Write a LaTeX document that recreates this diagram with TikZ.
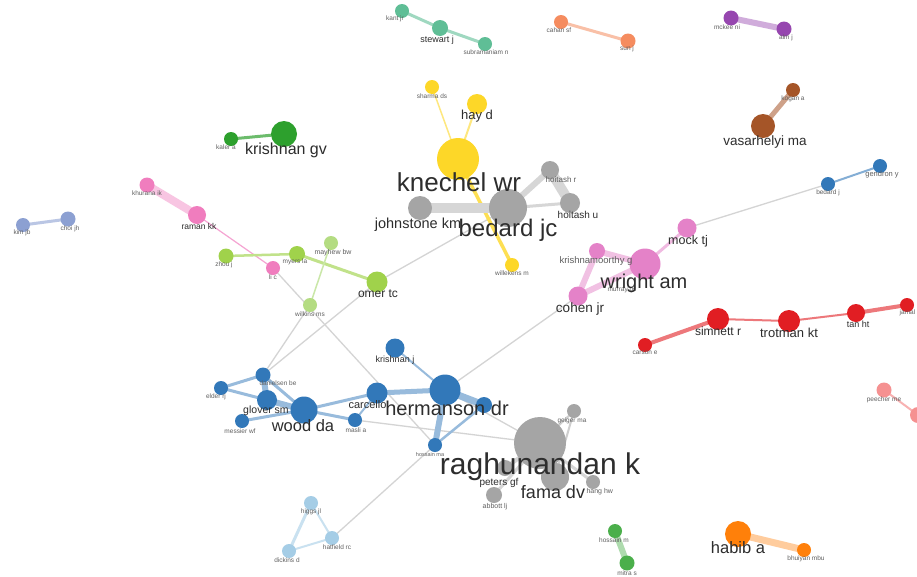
\documentclass[tikz,border=0pt]{standalone}
\usepackage{fontspec}
\setmainfont{Liberation Sans}
\pgfdeclarelayer{back}\pgfdeclarelayer{bg}\pgfdeclarelayer{fg}
\pgfsetlayers{back,bg,main,fg}

\definecolor{cTeal}{RGB}{95,190,150}
\definecolor{cSalmon}{RGB}{245,140,95}
\definecolor{cPurple}{RGB}{150,70,175}
\definecolor{cBrown}{RGB}{165,85,40}
\definecolor{cYellow}{RGB}{253,215,40}
\definecolor{cGray}{RGB}{165,165,165}
\definecolor{cDGreen}{RGB}{45,160,45}
\definecolor{cSlate}{RGB}{140,160,210}
\definecolor{cPink}{RGB}{240,125,190}
\definecolor{cLime}{RGB}{160,210,75}
\definecolor{cLime2}{RGB}{180,220,130}
\definecolor{cBlue}{RGB}{50,120,185}
\definecolor{cRed}{RGB}{225,30,35}
\definecolor{cRose}{RGB}{245,145,145}
\definecolor{cSky}{RGB}{165,205,230}
\definecolor{cGreen}{RGB}{75,175,75}
\definecolor{cOrange}{RGB}{255,128,10}
\definecolor{cOrchid}{RGB}{228,130,200}
\definecolor{cLink}{RGB}{212,212,212}
\definecolor{txt}{RGB}{45,45,45}
\definecolor{txtS}{RGB}{95,95,95}

\tikzset{
  v/.style={circle,inner sep=0pt,draw=none,minimum size=#1},
  lbl/.style={text=txt,inner sep=0pt,font=\fontsize{#1}{#1}\selectfont},
  slbl/.style={text=txtS,inner sep=0pt,font=\fontsize{#1}{#1}\selectfont},
  ln/.style={line width=#1,line cap=round},
  link/.style={ln=1.3,cLink},
}

\begin{document}
\begin{tikzpicture}[x=1pt,y=-1pt]
\useasboundingbox (0,0) rectangle (917,576);
\begin{pgfonlayer}{back}
\fill[white] (0,0) rectangle (917,576);
\end{pgfonlayer}

% ---------- vertices ----------
% teal
\node[v=14,fill=cTeal] (kant) at (402,11) {};
\node[v=16,fill=cTeal] (stewart) at (440,28) {};
\node[v=14,fill=cTeal] (subra) at (485,44) {};
% salmon
\node[v=14,fill=cSalmon] (cahan) at (561,22) {};
\node[v=15,fill=cSalmon] (sun) at (628,41) {};
% purple
\node[v=15,fill=cPurple] (mckee) at (731,18) {};
\node[v=15,fill=cPurple] (alm) at (784,29) {};
% brown
\node[v=14,fill=cBrown] (kogan) at (793,90) {};
\node[v=24,fill=cBrown] (vasar) at (763,126) {};
% yellow
\node[v=14,fill=cYellow] (sharma) at (432,87) {};
\node[v=20,fill=cYellow] (hay) at (477,104) {};
\node[v=42,fill=cYellow] (knechel) at (458,159) {};
\node[v=14,fill=cYellow] (willekens) at (512,265) {};
% gray (bedard)
\node[v=18,fill=cGray] (hoitr) at (550,170) {};
\node[v=20,fill=cGray] (hoitu) at (570,203) {};
\node[v=24,fill=cGray] (johnstone) at (420,208) {};
\node[v=38,fill=cGray] (bedard) at (508,208) {};
% dark green
\node[v=14,fill=cDGreen] (kaler) at (231,139) {};
\node[v=26,fill=cDGreen] (krishgv) at (284,134) {};
% slate
\node[v=14,fill=cSlate] (kim) at (23,225) {};
\node[v=15,fill=cSlate] (choi) at (68,219) {};
% pink
\node[v=15,fill=cPink] (khurana) at (147,185) {};
\node[v=18,fill=cPink] (raman) at (197,215) {};
\node[v=14,fill=cPink] (lic) at (273,268) {};
% lime
\node[v=15,fill=cLime] (zhou) at (226,256) {};
\node[v=16,fill=cLime] (myers) at (297,254) {};
\node[v=14,fill=cLime2] (mayhew) at (331,243) {};
\node[v=21,fill=cLime] (omer) at (377,282) {};
\node[v=14,fill=cLime2] (wilkins) at (310,305) {};
% blue (hermanson / wood)
\node[v=19,fill=cBlue] (krishj) at (395,348) {};
\node[v=31,fill=cBlue] (herm) at (445,390) {};
\node[v=21,fill=cBlue] (carcello) at (377,393) {};
\node[v=16,fill=cBlue] (dao) at (484,405) {};
\node[v=14,fill=cBlue] (hossma) at (435,445) {};
\node[v=14,fill=cBlue] (masli) at (355,420) {};
\node[v=27,fill=cBlue] (wood) at (304,410) {};
\node[v=20,fill=cBlue] (glover) at (267,400) {};
\node[v=15,fill=cBlue] (daniel) at (263,375) {};
\node[v=14,fill=cBlue] (elder) at (221,388) {};
\node[v=14,fill=cBlue] (messier) at (242,421) {};
% gray (raghunandan)
\node[v=52,fill=cGray] (ragh) at (540,443) {};
\node[v=14,fill=cGray] (geiger) at (574,411) {};
\node[v=28,fill=cGray] (fama) at (555,477) {};
\node[v=14,fill=cGray] (zhang) at (593,482) {};
\node[v=16,fill=cGray] (peters) at (505,468) {};
\node[v=16,fill=cGray] (abbott) at (494,495) {};
% orchid (wright)
\node[v=19,fill=cOrchid] (mock) at (687,228) {};
\node[v=16,fill=cOrchid] (krishg) at (597,251) {};
\node[v=31,fill=cOrchid] (wright) at (645,264) {};
\node[v=19,fill=cOrchid] (cohen) at (578,296) {};
% blue top right
\node[v=14,fill=cBlue] (bedj) at (828,184) {};
\node[v=14,fill=cBlue] (gendron) at (880,166) {};
% red
\node[v=14,fill=cRed] (carson) at (645,345) {};
\node[v=22,fill=cRed] (simnett) at (718,319) {};
\node[v=22,fill=cRed] (trotman) at (789,321) {};
\node[v=18,fill=cRed] (tan) at (856,313) {};
\node[v=14,fill=cRed] (jamal) at (907,305) {};
% rose
\node[v=15,fill=cRose] (peecher) at (884,390) {};
\node[v=16,fill=cRose] (rose2) at (918,415) {};
% sky
\node[v=14,fill=cSky] (higgs) at (311,503) {};
\node[v=14,fill=cSky] (hatfield) at (332,538) {};
\node[v=14,fill=cSky] (dickins) at (289,551) {};
% green bottom
\node[v=14,fill=cGreen] (hossm) at (615,531) {};
\node[v=15,fill=cGreen] (mitra) at (627,563) {};
% orange
\node[v=26,fill=cOrange] (habib) at (738,534) {};
\node[v=14,fill=cOrange] (bhuiyan) at (804,550) {};

% ---------- links ----------
\begin{pgfonlayer}{bg}
% links between clusters
\draw[link] (omer.center) -- (bedard.center);
\draw[link] (omer.center) -- (daniel.center);
\draw[link] (wilkins.center) -- (daniel.center);
\draw[link] (lic.center) -- (hossma.center);
\draw[link] (herm.center) -- (cohen.center);
\draw[link] (herm.center) -- (ragh.center);
\draw[link] (masli.center) -- (ragh.center);
\draw[link] (hatfield.center) -- (hossma.center);
\draw[link] (mock.center) -- (bedj.center);
% within clusters
\draw[ln=3,cTeal!60] (kant.center) -- (stewart.center) -- (subra.center);
\draw[ln=3,cSalmon!55] (cahan.center) -- (sun.center);
\draw[ln=6,cPurple!45] (mckee.center) -- (alm.center);
\draw[ln=5,cBrown!55] (kogan.center) -- (vasar.center);
\draw[ln=1.5,cYellow!60] (sharma.center) -- (knechel.center);
\draw[ln=2,cYellow!60] (hay.center) -- (knechel.center);
\draw[ln=3.5,cYellow!80] (knechel.center) -- (willekens.center);
\draw[ln=10,cGray!45] (johnstone.center) -- (bedard.center);
\draw[ln=6,cGray!45] (bedard.center) -- (hoitr.center);
\draw[ln=3,cGray!45] (bedard.center) -- (hoitu.center);
\draw[ln=10,cGray!45] (hoitr.center) -- (hoitu.center);
\draw[ln=3,cDGreen!70] (kaler.center) -- (krishgv.center);
\draw[ln=3,cSlate!60] (kim.center) -- (choi.center);
\draw[ln=8,cPink!45] (khurana.center) -- (raman.center);
\draw[ln=1.2,cPink!70] (raman.center) -- (lic.center);
\draw[ln=2.5,cLime!65] (zhou.center) -- (myers.center);
\draw[ln=3,cLime!65] (myers.center) -- (omer.center);
\draw[ln=1.5,cLime2!70] (mayhew.center) -- (wilkins.center);
\draw[ln=2,cBlue!50] (krishj.center) -- (herm.center);
\draw[ln=5,cBlue!50] (carcello.center) -- (herm.center);
\draw[ln=7,cBlue!50] (herm.center) -- (dao.center);
\draw[ln=6,cBlue!50] (herm.center) -- (hossma.center);
\draw[ln=2.5,cBlue!50] (dao.center) -- (hossma.center);
\draw[ln=3,cBlue!50] (carcello.center) -- (wood.center);
\draw[ln=2,cBlue!50] (carcello.center) -- (masli.center);
\draw[ln=3,cBlue!50] (wood.center) -- (masli.center);
\draw[ln=6,cBlue!50] (wood.center) -- (glover.center);
\draw[ln=3,cBlue!50] (wood.center) -- (daniel.center);
\draw[ln=6,cBlue!50] (glover.center) -- (daniel.center);
\draw[ln=3,cBlue!50] (elder.center) -- (daniel.center);
\draw[ln=3,cBlue!50] (elder.center) -- (glover.center);
\draw[ln=3,cBlue!50] (wood.center) -- (messier.center);
\draw[ln=2,cGray!55] (ragh.center) -- (geiger.center);
\draw[ln=2,cGray!55] (geiger.center) -- (fama.center);
\draw[ln=8,cGray!45] (ragh.center) -- (fama.center);
\draw[ln=3,cGray!45] (ragh.center) -- (zhang.center);
\draw[ln=4,cGray!45] (ragh.center) -- (peters.center);
\draw[ln=3,cGray!45] (ragh.center) -- (abbott.center);
\draw[ln=3,cOrchid!55] (wright.center) -- (mock.center);
\draw[ln=6,cOrchid!50] (wright.center) -- (krishg.center);
\draw[ln=6,cOrchid!50] (wright.center) -- (cohen.center);
\draw[ln=6,cOrchid!50] (krishg.center) -- (cohen.center);
\draw[ln=2,cBlue!60] (bedj.center) -- (gendron.center);
\draw[ln=4,cRed!60] (carson.center) -- (simnett.center);
\draw[ln=2,cRed!60] (simnett.center) -- (trotman.center) -- (tan.center);
\draw[ln=4,cRed!60] (tan.center) -- (jamal.center);
\draw[ln=2,cRose!70] (peecher.center) -- (rose2.center);
\draw[ln=3,cSky!60] (higgs.center) -- (dickins.center);
\draw[ln=2,cSky!60] (higgs.center) -- (hatfield.center);
\draw[ln=2,cSky!60] (dickins.center) -- (hatfield.center);
\draw[ln=6,cGreen!45] (hossm.center) -- (mitra.center);
\draw[ln=7,cOrange!40] (habib.center) -- (bhuiyan.center);
\end{pgfonlayer}

% ---------- labels ----------
\begin{pgfonlayer}{fg}
\node[slbl=6.5] (l-kant) at (395,19) {kant jr};
\node[lbl=9] (l-stewart) at (437,40) {stewart j};
\node[slbl=6.5] (l-subra) at (486,52) {subramaniam n};
\node[slbl=6.5] (l-cahan) at (559,30) {cahan sf};
\node[slbl=6.5] (l-sun) at (627,49) {sun j};
\node[slbl=6.5] (l-mckee) at (727,27) {mckee ni};
\node[slbl=6.5] (l-alm) at (786,38) {alm j};
\node[slbl=6.5] (l-kogan) at (793,99) {kogan a};
\node[lbl=13.5] (l-vasar) at (765,142) {vasarhelyi ma};
\node[slbl=6.5] (l-sharma) at (432,96) {sharma ds};
\node[lbl=13] (l-hay) at (477,116) {hay d};
\node[lbl=26] (l-knechel) at (459,182) {knechel wr};
\node[slbl=8] (l-hoitr) at (561,180) {hoitash r};
\node[lbl=10] (l-hoitu) at (578,215) {hoitash u};
\node[lbl=14.5] (l-johnstone) at (418,225) {johnstone km};
\node[lbl=24] (l-bedard) at (508,230) {bedard jc};
\node[slbl=6.5] (l-willekens) at (512,273) {willekens m};
\node[slbl=6.5] (l-kaler) at (226,147) {kaler a};
\node[lbl=16] (l-krishgv) at (286,150) {krishnan gv};
\node[slbl=6.5] (l-kim) at (22,233) {kim jb};
\node[slbl=6.5] (l-choi) at (70,229) {choi jh};
\node[slbl=6.5] (l-khurana) at (147,193) {khurana ik};
\node[lbl=8.5] (l-raman) at (199,226) {raman kk};
\node[slbl=6.5] (l-lic) at (273,277) {li c};
\node[slbl=6.5] (l-zhou) at (224,265) {zhou j};
\node[slbl=6.5] (l-myers) at (295,262) {myers la};
\node[slbl=7] (l-mayhew) at (333,253) {mayhew bw};
\node[lbl=12] (l-omer) at (378,294) {omer tc};
\node[slbl=6.5] (l-wilkins) at (310,314) {wilkins ms};
\node[lbl=9] (l-krishj) at (395,360) {krishnan j};
% this label runs under the larger one to its right, so only its start shows
\begin{scope}
\clip (330,396) rectangle (386,416);
\node[lbl=11] (l-carcello) at (373,406) {carcello jv};
\end{scope}
\node[lbl=20] (l-herm) at (447,408) {hermanson dr};
\node[slbl=5.5] (l-hossma) at (430,455) {hossain ma};
\node[slbl=6.5] (l-masli) at (356,430) {masli a};
\node[lbl=16.5] (l-wood) at (303,426) {wood da};
\node[lbl=10.5] (l-glover) at (266,411) {glover sm};
\node[slbl=6.5] (l-daniel) at (278,383) {danielsen be};
\node[slbl=6.5] (l-elder) at (216,397) {elder rj};
\node[slbl=6.5] (l-messier) at (240,431) {messier wf};
\node[lbl=30] (l-ragh) at (540,467) {raghunandan k};
\node[slbl=6.5] (l-geiger) at (572,421) {geiger ma};
% likewise partly hidden behind the label on its left
\begin{scope}
\clip (586,485) rectangle (625,500);
\node[slbl=7] (l-zhang) at (598,492) {zhang hw};
\end{scope}
\node[lbl=18] (l-fama) at (553,492) {fama dv};
\node[lbl=10] (l-peters) at (499,483) {peters gf};
\node[slbl=7] (l-abbott) at (495,507) {abbott lj};
\node[lbl=12.5] (l-mock) at (688,241) {mock tj};
\node[slbl=9.5] (l-krishg) at (596,261) {krishnamoorthy g};
\node[slbl=6.5] (l-murray) at (622,290) {murray gs};
\node[lbl=20] (l-wright) at (644,283) {wright am};
\node[lbl=13.5] (l-cohen) at (580,309) {cohen jr};
\node[slbl=6.5] (l-bedj) at (828,193) {bedard j};
\node[slbl=7.5] (l-gendron) at (882,175) {gendron y};
\node[slbl=6.5] (l-carson) at (645,353) {carson e};
\node[lbl=12] (l-simnett) at (718,331) {simnett r};
\node[lbl=13] (l-trotman) at (789,333) {trotman kt};
\node[lbl=9] (l-tan) at (858,324) {tan ht};
\node[slbl=6.5] (l-jamal) at (910,313) {jamal k};
\node[slbl=6.5] (l-peecher) at (884,400) {peecher me};
\node[slbl=6.5] (l-higgs) at (311,512) {higgs jl};
\node[slbl=6.5] (l-hatfield) at (337,547) {hatfield rc};
\node[slbl=6.5] (l-dickins) at (287,560) {dickins d};
\node[slbl=6.5] (l-hossm) at (614,540) {hossain m};
\node[slbl=6.5] (l-mitra) at (627,573) {mitra s};
\node[lbl=16.5] (l-habib) at (738,548) {habib a};
\node[slbl=6.5] (l-bhuiyan) at (806,559) {bhuiyan mbu};
\end{pgfonlayer}
\end{tikzpicture}
\end{document}
